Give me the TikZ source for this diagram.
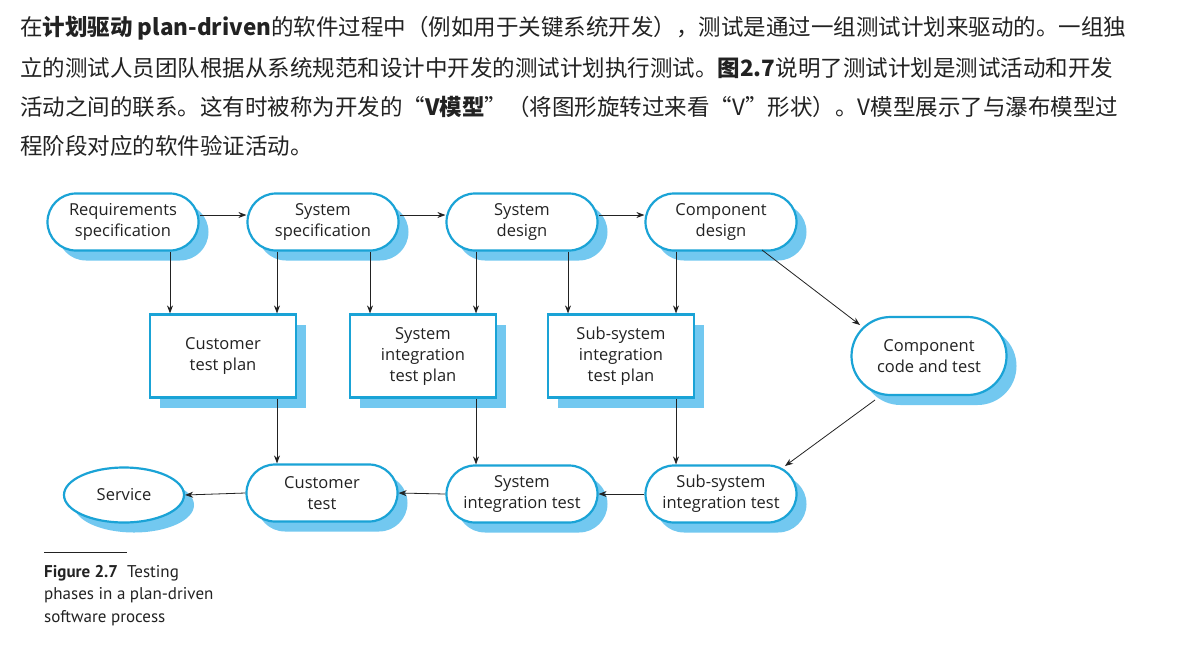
\documentclass[tikz,border=0pt]{standalone}
\usepackage{fontspec}
\setmainfont{Open Sans}
\newfontfamily\cjk{Noto Sans CJK SC}
\newfontfamily\ptsans{PT Sans}
\usetikzlibrary{shapes.misc,shapes.geometric,arrows.meta,shadows}
\definecolor{bord}{HTML}{1AA3D6}
\definecolor{shad}{HTML}{72C8F0}
\definecolor{txt}{HTML}{222222}
\begin{document}
\begin{tikzpicture}[x=1pt,y=-1pt,
  base/.style={draw=bord,line width=2.2pt,fill=white,align=center,text=txt,font=\fontsize{16.5}{21}\selectfont,
    drop shadow={shadow xshift=10pt,shadow yshift=-10pt,fill=shad,opacity=1}},
  stad/.style={base,rounded rectangle,minimum width=153pt,minimum height=57pt,inner sep=1pt},
  box/.style={base,rectangle,minimum width=146pt,minimum height=83pt,inner sep=1pt},
  arr/.style={-{Stealth[length=8pt,width=6pt]},line width=0.8pt,draw=txt}]
\useasboundingbox (0,0) rectangle (1177,646);
\fill[white] (0,0) rectangle (1177,646);
\begin{scope}[every node/.style={anchor=west,inner sep=0,text=txt,font=\cjk\fontsize{22.5}{24}\selectfont}]
\node (l1) at (20,28) {在\textbf{计划驱动 plan-driven}的软件过程中（例如用于关键系统开发），测试是通过一组测试计划来驱动的。一组独};
\node (l2) at (20,68) {立的测试人员团队根据从系统规范和设计中开发的测试计划执行测试。\textbf{图2.7}说明了测试计划是测试活动和开发};
\node (l3) at (20,107) {活动之间的联系。这有时被称为开发的“\textbf{V模型}”（将图形旋转过来看“V”形状）。V模型展示了与瀑布模型过};
\node (l4) at (20,146) {程阶段对应的软件验证活动。};
\end{scope}
\node[stad] (rs) at (123,222) {Requirements\\specification};
\node[stad] (ss) at (323,222) {System\\specification};
\node[stad] (sd) at (522,222) {System\\design};
\node[stad] (cd) at (721,222) {Component\\design};
\node[box] (ctp) at (223,356) {Customer\\test plan};
\node[box] (sitp) at (423,356) {System\\integration\\test plan};
\node[box] (sstp) at (621,356) {Sub-system\\integration\\test plan};
\node[stad,minimum width=157pt,minimum height=78pt] (cct) at (929,356) {Component\\code and test};
\node[base,ellipse,minimum width=120pt,minimum height=55pt,inner sep=0pt] (sv) at (124,495) {Service};
\node[stad] (ct) at (322,493) {Customer\\test};
\node[stad] (sit) at (522,494) {System\\integration test};
\node[stad] (ssit) at (721,494) {Sub-system\\integration test};
\draw[arr] (rs.east|-0,215) -- (ss.west|-0,215);
\draw[arr] (ss.east|-0,215) -- (sd.west|-0,215);
\draw[arr] (sd.east|-0,215) -- (cd.west|-0,215);
\draw[arr] (rs.south-|170,0) -- (ctp.north-|170,0);
\draw[arr] (ss.south-|277,0) -- (ctp.north-|277,0);
\draw[arr] (ss.south-|370,0) -- (sitp.north-|370,0);
\draw[arr] (sd.south-|476,0) -- (sitp.north-|476,0);
\draw[arr] (sd.south-|568,0) -- (sstp.north-|568,0);
\draw[arr] (cd.south-|676,0) -- (sstp.north-|676,0);
\draw[arr] (762,250) -- (860,325);
\draw[arr] (875,400) -- (785,466);
\draw[arr] (ctp.south-|277,0) -- (ct.north-|277,0);
\draw[arr] (sitp.south-|476,0) -- (sit.north-|476,0);
\draw[arr] (sstp.south-|676,0) -- (ssit.north-|676,0);
\draw[arr] (ssit.west) -- (sit.east);
\draw[arr] (sit.west) -- (ct.east);
\draw[arr] (ct.west) -- (sv.east);
\coordinate (c1) at (44,552); \coordinate (c2) at (127,552);
\draw[line width=0.8pt,txt] (c1) -- (c2);
\node[anchor=north west,align=left,inner sep=0,text=txt,font=\ptsans\fontsize{17}{22.5}\selectfont] (cap) at (44,565) {\textbf{Figure 2.7}\ \ Testing\\phases in a plan-driven\\software process};
\end{tikzpicture}
\end{document}
